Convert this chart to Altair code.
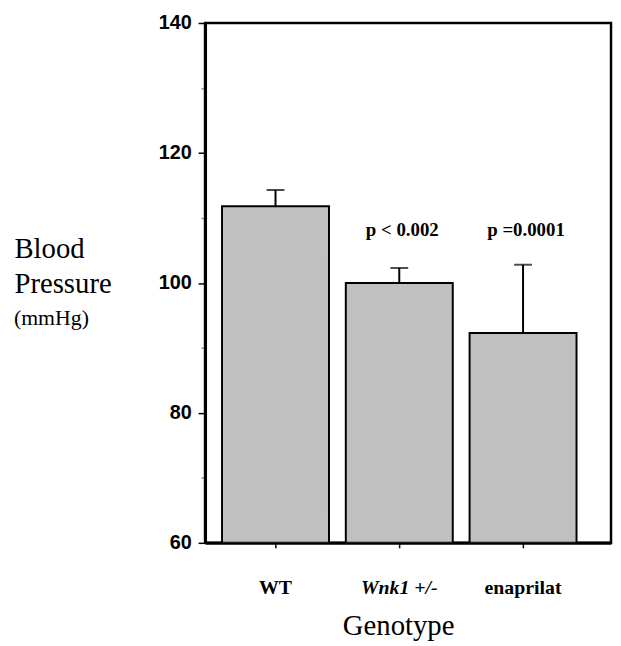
import altair as alt
import pandas as pd

genotypes = ["WT", "Wnk1 +/-", "enaprilat"]
bp_mean = [111.8, 100.0, 92.3]
bp_upper = [114.3, 102.3, 102.8]
p_labels = ["", "p < 0.002", "p =0.0001"]
y_tick_values = [60, 70, 80, 90, 100, 110, 120, 130, 140]
unit_label = ["(mmHg)"]

df = pd.DataFrame({"genotype": genotypes, "mean": bp_mean, "upper": bp_upper, "p": p_labels})
unit_df = pd.DataFrame({"t": unit_label})

serif = "Liberation Serif"
sans = "Liberation Sans"

x_enc = alt.X(
    "genotype:N",
    sort=genotypes,
    scale=alt.Scale(paddingInner=0.136, paddingOuter=0.208, align=0.33),
    axis=alt.Axis(
        title="Genotype",
        titleFont=serif,
        titleFontSize=29,
        titleFontWeight="normal",
        titleColor="black",
        titleBaseline="alphabetic",
        titleAlign="center",
        titleX=195,
        titleY=93,
        labelAngle=0,
        labelFont=serif,
        labelFontSize=20,
        labelFontWeight="bold",
        labelColor="black",
        labelFontStyle={"condition": {"test": "datum.value === 'Wnk1 +/-'", "value": "italic"}, "value": "normal"},
        labelBaseline="alphabetic",
        labelPadding=46,
        tickSize=5,
        tickWidth=1.5,
        tickColor="black",
        domainWidth=3,
        domainColor="black",
    ),
)

y_scale = alt.Scale(domain=[60, 140], nice=False, zero=False)
y_axis = alt.Axis(
    title=["Blood", "Pressure"],
    titleFont=serif,
    titleFontSize=29,
    titleFontWeight="normal",
    titleColor="black",
    titleAngle=0,
    titleAlign="left",
    titleBaseline="alphabetic",
    titleX=-193,
    titleY=237,
    titleLineHeight=35,
    values=y_tick_values,
    labelExpr="datum.value % 20 === 0 ? datum.label : ''",
    labelFont=sans,
    labelFontSize=20,
    labelFontWeight="bold",
    labelColor="black",
    labelPadding=7,
    tickSize={"condition": {"test": "datum.value % 20 === 0", "value": 7}, "value": 4},
    tickColor={"condition": {"test": "datum.value % 20 === 0", "value": "black"}, "value": "#888888"},
    tickWidth=1.5,
    domainWidth=3,
    domainColor="black",
    grid=False,
)

base = alt.Chart(df)

bars = base.mark_bar(color="#c0c0c0", stroke="black", strokeWidth=2, clip=True).encode(
    x=x_enc,
    y=alt.Y("mean:Q", scale=y_scale, axis=y_axis),
    y2=alt.datum(60),
)

err = base.mark_rule(color="black", strokeWidth=2).encode(
    x=alt.X("genotype:N", sort=genotypes),
    y="mean:Q",
    y2="upper:Q",
)

cap = base.mark_tick(color="black", thickness=2, size=18).encode(
    x=alt.X("genotype:N", sort=genotypes),
    y="upper:Q",
)

ptext = base.mark_text(font=serif, fontSize=19, fontWeight="bold", color="black", baseline="alphabetic", dx=3).encode(
    x=alt.X("genotype:N", sort=genotypes),
    y=alt.value(215),
    text="p:N",
)

unit = alt.Chart(unit_df).mark_text(font=serif, fontSize=22, color="black", align="left", baseline="alphabetic").encode(
    x=alt.value(-193),
    y=alt.value(305),
    text="t:N",
)

chart = (
    alt.layer(bars, err, cap, ptext, unit)
    .properties(
        width=410,
        height=525,
        autosize=alt.AutoSizeParams(type="none"),
        padding={"left": 199, "top": 12, "right": 2, "bottom": 98},
        background="white",
    )
    .configure_view(stroke="black", strokeWidth=2.5)
    .configure_axis(grid=False)
)

chart.save("out.html", embed_options={"renderer": "svg", "actions": False})
